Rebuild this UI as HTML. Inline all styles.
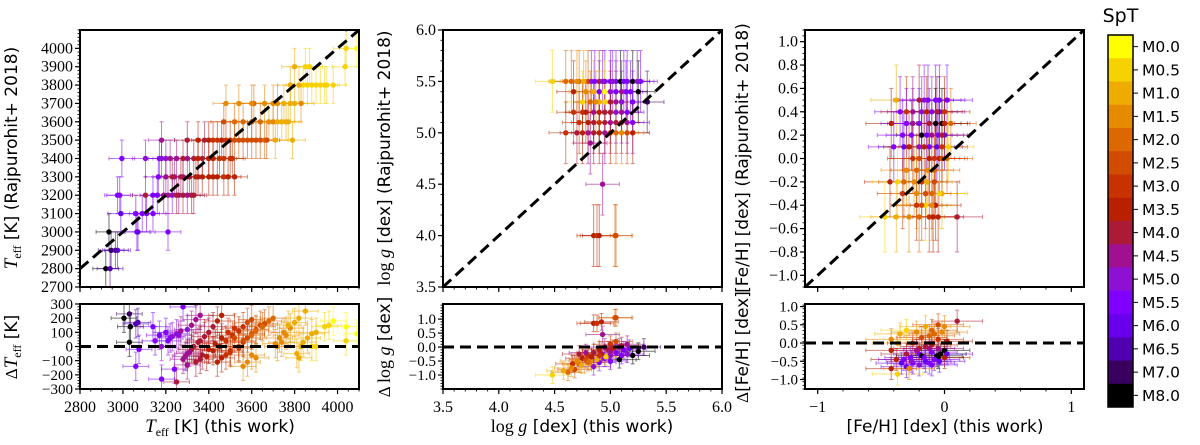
<!DOCTYPE html>
<html><head><meta charset="utf-8"><style>
html,body{margin:0;padding:0;background:#fff;}
svg{display:block;}
text{font-family:"Liberation Serif",serif;fill:#000;}
.sans{font-family:"DejaVu Sans","Liberation Sans",sans-serif;}
</style></head><body>
<svg id="chart" width="1200" height="445" viewBox="0 0 1200 445" xmlns="http://www.w3.org/2000/svg"></svg>
<script>
// ---- data ----
const sptLabels = ["M0.0","M0.5","M1.0","M1.5","M2.0","M2.5","M3.0","M3.5","M4.0","M4.5","M5.0","M5.5","M6.0","M6.5","M7.0","M8.0"];
const sptColors = ["#ffff00","#f6d200","#efac00","#e68a00","#de6800","#d24c00","#c83200","#b92000","#ab1a36","#a01090","#8e10d4","#8000ff","#6800ee","#5000b0","#3a0060","#000000"];
const teffMain = [[2920,2800,15],[2935,3000,15],[2945,2900,14],[2940,2800,13],[2975,2900,12],[2965,2900,13],[2990,3100,12],[2985,3200,11],[2975,3200,11],[2995,3400,11],[3065,3000,11],[3070,3000,12],[3060,3100,11],[3090,3100,11],[3110,3100,11],[3140,3100,11],[3140,3200,11],[3160,3200,11],[3165,3300,11],[3210,3000,11],[3105,3200,8],[3105,3400,10],[3170,3400,11],[3180,3500,9],[3180,3400,10],[3200,3400,10],[3220,3400,9],[3240,3300,9],[3230,3200,10],[3260,3200,9],[3280,3300,9],[3300,3400,9],[3320,3200,8],[3350,3300,8],[3370,3400,8],[3380,3500,8],[3400,3400,7],[3420,3300,7],[3450,3400,6],[3460,3500,7],[3480,3500,6],[3500,3400,6],[3520,3300,7],[3540,3500,5],[3560,3500,5],[3600,3500,5],[3640,3500,5],[3520,3600,4],[3480,3700,3],[3540,3700,3],[3610,3700,4],[3600,3600,4],[3660,3700,3],[3700,3700,3],[3740,3600,2],[3710,3500,2],[3760,3600,2],[3790,3500,2],[3780,3700,2],[3780,3800,2],[3830,3700,3],[3800,3900,2],[3850,3900,1],[3870,3900,1],[3840,3800,1],[3880,3800,1],[3900,3800,1],[3940,3800,1],[3980,3800,1],[4035,3900,1],[4040,4000,1],[4090,4000,0],[4100,4100,15],
[3190,3200,9],[3210,3200,9],[3250,3200,8],[3280,3200,8],[3300,3200,9],[3330,3200,8],[3200,3300,9],[3230,3300,8],[3270,3300,8],[3310,3300,8],[3340,3300,7],[3370,3300,7],[3400,3300,7],[3440,3300,7],[3470,3300,6],[3490,3300,7],[3250,3400,9],[3280,3400,8],[3330,3400,8],[3350,3400,7],[3420,3400,7],[3470,3400,6],[3510,3400,6],[3300,3500,8],[3350,3500,7],[3400,3500,7],[3420,3500,6],[3440,3500,6],[3500,3500,6],[3520,3500,5],[3580,3500,5],[3620,3500,5],[3660,3500,4],[3670,3500,5],[3470,3600,5],[3560,3600,4],[3640,3600,4],[3680,3600,3],[3700,3600,3],[3720,3600,2],[3770,3600,2],[3600,3700,3],[3720,3700,3],[3750,3700,2],[3800,3700,2],[3820,3800,2],[3860,3800,1],[3920,3800,1],[3950,3800,1]];
const teffDelta = [[3005,200,15],[3030,230,14],[3035,140,15],[3030,30,15],[3060,160,13],[3070,170,13],[3075,-20,11],[3060,-140,11],[3140,140,11],[3150,40,11],[3170,80,11],[3180,0,10],[3200,100,11],[3210,40,11],[3220,60,11],[3240,-160,11],[3280,280,11],[3260,80,10],[3300,120,10],[3320,150,9],[3340,190,9],[3360,220,9],[3280,-90,9],[3300,-50,9],[3320,-20,8],[3350,30,8],[3380,70,8],[3400,100,8],[3420,140,8],[3440,180,7],[3460,220,7],[3390,-70,7],[3420,-30,7],[3450,0,7],[3480,40,6],[3510,80,6],[3540,110,6],[3560,140,6],[3580,170,5],[3600,190,5],[3500,-30,6],[3250,-250,8],[3300,-130,9],[3180,-230,11],[3440,-110,7],[3480,-60,6],[3520,60,5],[3600,-60,3],[3620,-80,3],[3560,-140,3],[3580,-110,3],[3660,160,5],[3700,200,4],[3720,0,3],[3740,30,3],[3760,80,3],[3780,130,3],[3800,170,2],[3820,200,2],[3850,250,2],[3820,-80,2],[3840,30,2],[3860,60,2],[3880,90,2],[3900,100,2],[3880,0,1],[3900,0,1],[3940,140,1],[3960,150,1],[3980,180,0],[4040,140,0],[4040,40,1],[4090,90,0],
[3230,70,10],[3250,90,10],[3270,110,9],[3290,-70,9],[3310,-40,9],[3330,0,8],[3360,40,8],[3370,-60,8],[3400,-20,7],[3430,20,7],[3460,60,7],[3490,100,6],[3520,130,6],[3540,-10,6],[3560,30,6],[3580,60,5],[3600,90,5],[3620,120,5],[3640,150,5],[3680,180,4],[3340,-110,8],[3360,-90,8],[3460,-80,7],[3500,-40,6],[3540,0,5],[3560,40,5],[3600,80,4],[3620,110,4],[3650,140,4],[3710,20,3],[3730,60,3],[3750,100,3],[3770,150,2],[3810,-50,2],[3830,0,2]];
const loggMain = [[4.48,5.5,1],[4.6,5.5,4],[4.65,5.5,4],[4.72,5.5,4],[4.80,5.5,5],[4.83,5.5,10],[4.9,5.5,8],[4.95,5.5,11],[5.0,5.5,11],[5.05,5.5,11],[5.09,5.5,15],[5.15,5.5,11],[5.2,5.5,15],[5.27,5.5,11],[4.67,5.4,7],[4.85,5.4,2],[4.9,5.4,11],[4.95,5.4,0],[5.05,5.4,11],[5.1,5.4,9],[5.18,5.4,11],[5.25,5.4,15],[4.75,5.3,1],[4.82,5.3,4],[4.9,5.3,2],[4.95,5.3,1],[5.05,5.3,9],[5.2,5.3,11],[5.33,5.3,14],[4.67,5.2,6],[4.75,5.2,6],[4.85,5.2,9],[4.95,5.2,8],[5.05,5.2,10],[5.15,5.2,11],[4.72,5.1,6],[4.8,5.1,7],[4.9,5.1,6],[5.0,5.1,9],[5.1,5.1,7],[5.2,5.1,11],[4.6,5.0,6],[4.7,5.0,8],[4.8,5.0,9],[4.9,5.0,7],[5.0,5.0,6],[5.1,5.0,3],[5.2,5.0,7],[4.82,4.9,9],[4.93,4.5,9],[4.85,4.0,7],[4.88,4.0,6],[4.9,4.0,7],[5.04,4.0,4],[5.05,4.0,5],
[4.7,5.5,3],[4.76,5.5,2],[4.86,5.5,11],[4.93,5.5,10],[5.02,5.5,10],[5.12,5.5,11],[5.24,5.5,10],[4.78,5.4,3],[5.0,5.4,10],[5.14,5.4,11],[4.87,5.3,3],[5.0,5.3,8],[5.1,5.3,10],[4.78,5.2,7],[4.9,5.2,7],[5.0,5.2,8],[5.1,5.2,9],[4.85,5.1,8],[4.95,5.1,8],[5.05,5.1,8],[5.15,5.1,9],[4.75,5.0,7],[4.85,5.0,8],[4.95,5.0,9],[5.05,5.0,4],[5.15,5.0,5]];
const loggDelta = [[4.85,0.85,7],[4.88,0.85,6],[4.92,0.9,7],[5.04,1.05,4],[5.05,1.05,5],[4.93,0.45,9],[4.48,-1.0,1],[4.62,-0.9,4],[4.68,-0.8,5],[4.66,-0.6,6],[4.72,-0.6,4],[4.75,-0.4,7],[4.8,-0.3,6],[4.85,-0.2,8],[4.9,-0.1,7],[4.95,0.0,9],[5.0,0.1,6],[5.05,0.2,5],[4.72,-0.25,8],[4.78,-0.2,9],[4.85,-0.7,10],[4.9,-0.55,11],[4.95,-0.4,11],[5.0,-0.3,10],[5.05,-0.2,11],[5.08,-0.45,15],[5.12,-0.1,11],[5.17,-0.05,11],[5.2,-0.3,15],[5.25,-0.15,15],[5.3,0.0,14],[4.82,-0.5,3],[4.88,-0.45,2],[4.96,-0.35,1],[5.1,-0.3,11],[4.98,-0.1,8],[5.15,0.1,9],[4.7,-0.5,3],
[4.78,-0.45,5],[4.83,-0.35,7],[4.92,-0.25,8],[5.0,-0.15,9],[5.08,0.0,9],[4.74,-0.65,2],[4.8,-0.55,4],[4.9,-0.3,6],[5.02,-0.05,7],[5.1,0.05,8],[5.0,-0.5,11],[5.15,-0.25,10],[4.65,-0.75,3],[4.58,-0.85,2]];
const fehMain = [[-0.38,0.5,2],[-0.20,0.5,8],[-0.13,0.5,11],[-0.07,0.5,11],[0.02,0.5,11],[-0.35,0.4,11],[-0.3,0.4,6],[-0.18,0.4,10],[-0.1,0.4,11],[-0.04,0.4,12],[0.0,0.4,6],[-0.42,0.3,7],[-0.3,0.3,11],[-0.2,0.3,11],[-0.07,0.3,15],[-0.02,0.3,15],[0.05,0.3,4],[-0.33,0.2,11],[-0.18,0.2,15],[-0.1,0.2,9],[-0.05,0.2,11],[0.0,0.2,12],[-0.4,0.1,11],[-0.32,0.1,12],[-0.2,0.1,10],[-0.12,0.1,11],[-0.06,0.1,12],[0.03,0.1,1],[-0.25,0.0,6],[-0.12,0.0,7],[-0.04,0.0,7],[0.02,0.0,4],[-0.3,-0.1,3],[-0.13,-0.1,3],[-0.43,-0.2,7],[-0.37,-0.2,1],[-0.32,-0.2,4],[-0.18,-0.2,6],[-0.14,-0.2,2],[-0.33,-0.3,6],[-0.22,-0.3,3],[-0.1,-0.3,4],[-0.02,-0.3,2],[-0.22,-0.4,6],[-0.15,-0.4,1],[-0.07,-0.4,7],[-0.47,-0.5,1],[-0.38,-0.5,2],[-0.28,-0.5,3],[-0.12,-0.5,6],[-0.05,-0.5,7],[0.1,-0.5,8],
[-0.16,0.5,10],[-0.04,0.5,11],[-0.25,0.4,9],[-0.14,0.4,7],[-0.06,0.4,8],[-0.25,0.3,9],[-0.12,0.3,8],[0.0,0.3,7],[-0.26,0.2,11],[-0.14,0.2,12],[-0.02,0.2,8],[-0.28,0.1,7],[-0.16,0.1,7],[-0.02,0.1,6],[-0.2,0.0,5],[-0.08,0.0,6],[-0.02,0.0,5],[-0.22,-0.1,4],[-0.08,-0.1,4],[-0.24,-0.2,3],[-0.08,-0.2,5],[-0.04,-0.3,1],[-0.15,-0.3,5],[-0.18,-0.4,5],[-0.1,-0.4,3],[-0.2,-0.5,4],[-0.09,-0.5,7]];
const fehDelta = [[0.1,0.6,8],[-0.42,0.1,3],[-0.35,0.25,2],[-0.3,0.35,1],[-0.22,0.3,3],[-0.15,0.45,2],[-0.1,0.35,4],[-0.05,0.5,5],[0.0,0.45,3],[-0.12,0.2,4],[-0.05,0.1,6],[0.02,0.05,7],[-0.37,0.0,2],[-0.42,-0.2,7],[-0.38,-0.45,7],[-0.42,-0.7,7],[-0.37,-0.85,1],[-0.32,-0.45,11],[-0.27,-0.4,11],[-0.2,-0.3,11],[-0.18,-0.35,15],[-0.1,-0.25,11],[-0.06,-0.35,15],[-0.05,-0.4,15],[-0.03,-0.3,15],[0.0,-0.2,15],[-0.25,-0.55,11],[-0.15,-0.5,12],[-0.08,-0.45,11],[-0.3,-0.65,12],[-0.2,-0.6,10],[-0.12,-0.55,11],[0.0,-0.4,7],[-0.25,0.0,6],[-0.15,-0.1,8],[-0.05,-0.15,9],[-0.28,-0.7,3],[0.02,-0.3,12],
[-0.18,0.15,5],[-0.08,0.25,4],[-0.02,0.3,3],[-0.2,-0.15,7],[-0.1,-0.05,7],[-0.3,-0.3,8],[-0.22,-0.2,9],[-0.12,-0.15,9],[-0.26,-0.5,10],[-0.16,-0.4,11],[-0.34,-0.55,12],[-0.1,-0.6,11],[-0.04,-0.5,12]];

const NS="http://www.w3.org/2000/svg";
const svg=document.getElementById('chart');
function el(tag,attrs,parent){const e=document.createElementNS(NS,tag);for(const k in attrs)e.setAttribute(k,attrs[k]);(parent||svg).appendChild(e);return e;}
function fmt(v,d){let s=v.toFixed(d);if(v<0)s='\u2212'+s.slice(1);return s;}

function panel(o){
  const g=el('g',{});
  
  
  const sx=v=>o.x0+(v-o.xmin)/(o.xmax-o.xmin)*(o.x1-o.x0);
  const sy=v=>o.y1-(v-o.ymin)/(o.ymax-o.ymin)*(o.y1-o.y0);
  const clip='c'+o.name;
  const cp=el('clipPath',{id:clip},g);el('rect',{x:o.x0,y:o.y0,width:o.x1-o.x0,height:o.y1-o.y0},cp);
  const pg=el('g',{'clip-path':'url(#'+clip+')'},g);
  o.data.forEach(d=>{
    const c=sptColors[d[2]];const X=sx(d[0]),Y=sy(d[1]);
    const eb=el('g',{stroke:c,'stroke-width':1,opacity:0.55},pg);
    
    
    const x1=sx(d[0]-o.ex),x2=sx(d[0]+o.ex),ya=sy(d[1]-o.ey),yb=sy(d[1]+o.ey);
    el('line',{x1:x1,y1:Y,x2:x2,y2:Y},eb);
    el('line',{x1:X,y1:ya,x2:X,y2:yb},eb);
    el('line',{x1:x1,y1:Y-2,x2:x1,y2:Y+2},eb);el('line',{x1:x2,y1:Y-2,x2:x2,y2:Y+2},eb);
    el('line',{x1:X-2,y1:ya,x2:X+2,y2:ya},eb);el('line',{x1:X-2,y1:yb,x2:X+2,y2:yb},eb);
  });
  o.data.forEach(d=>{
    const p=el('circle',{cx:sx(d[0]),cy:sy(d[1]),r:2.7,fill:sptColors[d[2]]},pg);
    
    
  });
  let ln;
  if(o.diag) ln=el('line',{x1:sx(o.xmin),y1:sy(o.xmin),x2:sx(o.xmax),y2:sy(o.xmax),stroke:'#000','stroke-width':3,'stroke-dasharray':'11,6'},pg);
  else ln=el('line',{x1:o.x0,y1:sy(0),x2:o.x1,y2:sy(0),stroke:'#000','stroke-width':3,'stroke-dasharray':'11,6'},pg);
  
  
  el('rect',{x:o.x0,y:o.y0,width:o.x1-o.x0,height:o.y1-o.y0,fill:'none',stroke:'#000','stroke-width':2},g);
  const eps=1e-9;
  for(let v=o.ymin;v<=o.ymax+eps;v+=o.yminor){const Y=sy(v);el('line',{x1:o.x0-2.5,y1:Y,x2:o.x0,y2:Y,stroke:'#000','stroke-width':0.9},g);}
  o.yticks.forEach(v=>{const Y=sy(v);el('line',{x1:o.x0-5,y1:Y,x2:o.x0,y2:Y,stroke:'#000','stroke-width':1.2},g);
    const t=el('text',{x:o.x0-7,y:Y+5,'text-anchor':'end','font-size':o.fs||16},g);t.textContent=fmt(v,o.yd);
    });
  if(o.xticks){
    for(let v=o.xminorStart;v<=o.xmax+eps;v+=o.xminor){const X=sx(v);el('line',{x1:X,y1:o.y1,x2:X,y2:o.y1+2.5,stroke:'#000','stroke-width':0.9},g);}
    o.xticks.forEach(v=>{const X=sx(v);el('line',{x1:X,y1:o.y1,x2:X,y2:o.y1+5,stroke:'#000','stroke-width':1.2},g);
      if(o.xlabels){const t=el('text',{x:X,y:o.y1+23,'text-anchor':'middle','font-size':16},g);t.textContent=fmt(v,o.xd);
      }});
  }
  return g;
}
panel({name:'teff-main-panel',x0:80,x1:359,y0:30,y1:287,xmin:2800,xmax:4100,ymin:2700,ymax:4100,data:teffMain,ex:60,ey:100,diag:true,yticks:[2700,2800,2900,3000,3100,3200,3300,3400,3500,3600,3700,3800,3900,4000],yminor:20,yd:0,xticks:[2800,3000,3200,3400,3600,3800,4000],xminor:50,xminorStart:2800,xlabels:false,xd:0});
panel({name:'teff-delta-panel',x0:80,x1:359,y0:304,y1:389,xmin:2800,xmax:4100,ymin:-300,ymax:300,data:teffDelta,ex:60,ey:100,diag:false,yticks:[-300,-200,-100,0,100,200,300],yminor:20,yd:0,fs:15,xticks:[2800,3000,3200,3400,3600,3800,4000],xminor:50,xminorStart:2800,xlabels:true,xd:0});
panel({name:'logg-main-panel',x0:443,x1:722,y0:30,y1:287,xmin:3.5,xmax:6.0,ymin:3.5,ymax:6.0,data:loggMain,ex:0.15,ey:0.3,diag:true,yticks:[3.5,4.0,4.5,5.0,5.5,6.0],yminor:0.1,yd:1,xticks:[3.5,4.0,4.5,5.0,5.5,6.0],xminor:0.1,xminorStart:3.5,xlabels:false,xd:1});
panel({name:'logg-delta-panel',x0:443,x1:722,y0:304,y1:389,xmin:3.5,xmax:6.0,ymin:-1.5,ymax:1.54,data:loggDelta,ex:0.15,ey:0.3,diag:false,yticks:[-1.0,-0.5,0.0,0.5,1.0],yminor:0.1,yd:1,fs:15,xticks:[3.5,4.0,4.5,5.0,5.5,6.0],xminor:0.1,xminorStart:3.5,xlabels:true,xd:1});
panel({name:'feh-main-panel',x0:805,x1:1084,y0:30,y1:287,xmin:-1.1,xmax:1.1,ymin:-1.1,ymax:1.1,data:fehMain,ex:0.2,ey:0.3,diag:true,yticks:[-1.0,-0.8,-0.6,-0.4,-0.2,0.0,0.2,0.4,0.6,0.8,1.0],yminor:0.05,yd:1,xticks:[-1,0,1],xminor:0.2,xminorStart:-1.0,xlabels:false,xd:0});
panel({name:'feh-delta-panel',x0:805,x1:1084,y0:304,y1:389,xmin:-1.1,xmax:1.1,ymin:-1.26,ymax:1.07,data:fehDelta,ex:0.2,ey:0.3,diag:false,yticks:[-1.0,-0.5,0.0,0.5,1.0],yminor:0.1,yd:1,fs:15,xticks:[-1,0,1],xminor:0.2,xminorStart:-1.0,xlabels:true,xd:0});

function label(html,x,y,rot,name){
  const t=el('text',{x:x,y:y,'text-anchor':'middle','font-size':17,class:'sans',transform:rot?'rotate(-90 '+x+' '+y+')':''});
  t.innerHTML=html;
  
  
}
const TE='<tspan font-family="Liberation Serif" font-style="italic" font-size="19">T</tspan><tspan font-family="Liberation Serif" font-size="12" dy="4">eff</tspan><tspan dy="-4"> </tspan>';
const LG='<tspan font-family="Liberation Serif" font-size="18">log </tspan><tspan font-family="Liberation Serif" font-style="italic" font-size="18">g</tspan>';
label(TE+'[K] (Rajpurohit+ 2018)',17,158,true,'teff-y-axis-title');
label('<tspan font-family="Liberation Serif">\u0394</tspan>'+TE+'[K]',17,347,true,'teff-delta-y-axis-title');
label(TE+'[K] (this work)',220,432,false,'teff-x-axis-title');
label(LG+' [dex] (Rajpurohit+ 2018)',390,158,true,'logg-y-axis-title');
label('<tspan font-family="Liberation Serif">\u0394 </tspan>'+LG+' [dex]',390,347,true,'logg-delta-y-axis-title');
label(LG+' [dex] (this work)',582,432,false,'logg-x-axis-title');
label('[Fe/H] [dex] (Rajpurohit+ 2018)',748,158,true,'feh-y-axis-title');
label('<tspan font-family="Liberation Serif">\u0394</tspan>[Fe/H] [dex]',748,347,true,'feh-delta-y-axis-title');
label('[Fe/H] [dex] (this work)',945,432,false,'feh-x-axis-title');

const cb=el('g',{});


const cbx=1108,cbw=25,cby0=35,cby1=407,seg=(cby1-cby0)/sptLabels.length;
sptLabels.forEach((lab,i)=>{
  const y=cby0+i*seg;
  const r=el('rect',{x:cbx,y:y,width:cbw,height:seg+0.5,fill:sptColors[i]},cb);
  
  
  el('line',{x1:cbx+cbw,y1:y+seg/2,x2:cbx+cbw+5,y2:y+seg/2,stroke:'#000','stroke-width':1},cb);
  const t=el('text',{x:cbx+cbw+9,y:y+seg/2+5.5,'font-size':15.5,class:'sans'},cb);
  t.textContent=lab;
  
  
});
el('rect',{x:cbx,y:cby0,width:cbw,height:cby1-cby0,fill:'none',stroke:'#000','stroke-width':1.5},cb);
const tt=el('text',{x:cbx+cbw/2,y:22,'text-anchor':'middle','font-size':19,class:'sans'},cb);
tt.textContent='SpT';


</script>
</body></html>
